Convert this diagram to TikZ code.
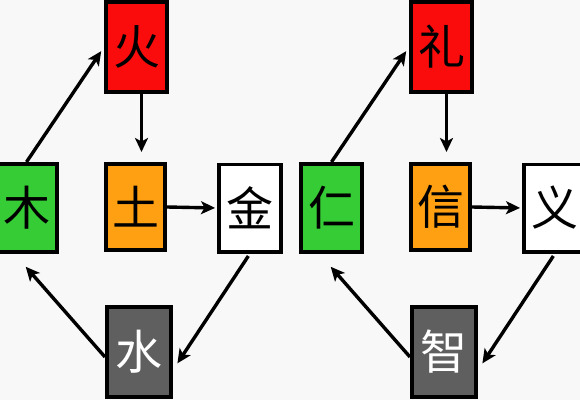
\documentclass[tikz,border=0pt]{standalone}
\usepackage{fontspec}
\newfontfamily\cjk{Noto Sans CJK SC}
\usetikzlibrary{arrows.meta}
\definecolor{bgc}{RGB}{248,248,248}
\definecolor{cred}{RGB}{250,12,12}
\definecolor{cgreen}{RGB}{54,204,54}
\definecolor{corange}{RGB}{255,160,18}
\definecolor{cgray}{RGB}{95,95,95}
\tikzset{
  elem/.style={draw=black, line width=3.6pt, minimum width=61.4pt, minimum height=88.4pt,
    inner sep=0pt, font=\cjk\fontsize{47}{47}\selectfont},
  arr/.style={line width=3.4pt, -{Stealth[length=14pt,width=13pt,inset=3.5pt]}}
}
\begin{document}
\begin{tikzpicture}[x=1pt,y=1pt]
\fill[bgc] (0,0) rectangle (580,400);
\useasboundingbox (0,0) rectangle (580,400);
% left group
\node[elem, fill=cred, minimum height=90.4pt] (huo) at (136.5,353) {火};
\node[elem, fill=corange, minimum width=59.4pt, minimum height=86.4pt] (tu) at (135.5,193) {土};
\node[elem, fill=white, minimum width=62.4pt, minimum height=87.4pt] (jin) at (250,192) {金};
\node[elem, fill=cgreen] (mu) at (26.5,192) {木};
\node[elem, fill=cgray, text=white, minimum width=64.4pt, minimum height=90.4pt] (shui) at (139,48) {水};
\draw[arr, shorten >=5pt] (mu.north) -- (huo.west);
\draw[arr, shorten >=10pt] ([xshift=5pt]huo.south) -- ([xshift=6pt]tu.north);
\draw[arr, shorten >=2pt] (tu.east) -- (jin.west);
\draw[arr, shorten <=3pt, shorten >=8pt] (jin.south) -- ([yshift=-18pt]shui.east);
\draw[arr, shorten >=17pt] ([yshift=-5pt]shui.west) -- ([xshift=-12pt]mu.south);
% right group
\node[elem, fill=cred, minimum height=90.4pt] (li) at (441.5,353) {礼};
\node[elem, fill=corange, minimum width=59.4pt, minimum height=86.4pt] (xin) at (440.5,193) {信};
\node[elem, fill=white, minimum width=62.4pt, minimum height=87.4pt] (yi) at (555,192) {义};
\node[elem, fill=cgreen] (ren) at (331.5,192) {仁};
\node[elem, fill=cgray, text=white, minimum width=64.4pt, minimum height=90.4pt] (zhi) at (444,48) {智};
\draw[arr, shorten >=5pt] (ren.north) -- (li.west);
\draw[arr, shorten >=10pt] ([xshift=5pt]li.south) -- ([xshift=6pt]xin.north);
\draw[arr, shorten >=2pt] (xin.east) -- (yi.west);
\draw[arr, shorten <=3pt, shorten >=8pt] (yi.south) -- ([yshift=-18pt]zhi.east);
\draw[arr, shorten >=17pt] ([yshift=-5pt]zhi.west) -- ([xshift=-12pt]ren.south);
\end{tikzpicture}
\end{document}
